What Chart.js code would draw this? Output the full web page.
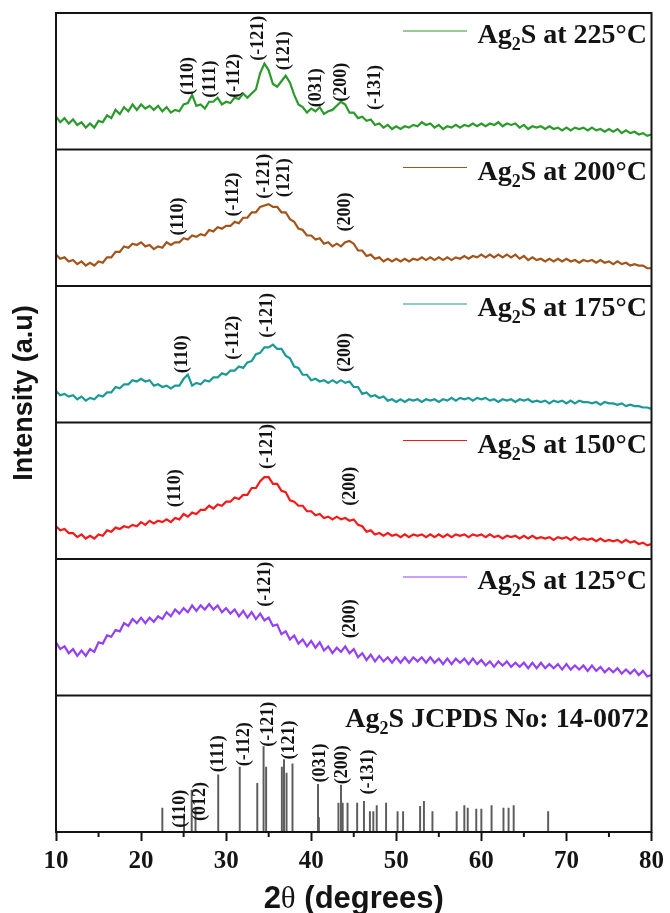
<!DOCTYPE html>
<html>
<head>
<meta charset="utf-8">
<title>Ag2S XRD patterns</title>
<script src="https://cdn.jsdelivr.net/npm/chart.js@4.4.1/dist/chart.umd.min.js"></script>
<style>
    html, body { margin: 0; padding: 0; background: #fff; }
    #wrap { position: relative; width: 670px; height: 913px; }
</style>
</head>
<body>
<div id="wrap"><canvas id="xrd"></canvas></div>
<script>
const twoTheta = [10,10.5,11,11.5,12,12.5,13,13.5,14,14.5,15,15.5,16,16.5,17,17.5,18,18.5,19,19.5,
    20,20.5,21,21.5,22,22.5,23,23.5,24,24.5,25,25.5,26,26.5,27,27.5,28,28.5,29,29.5,
    30,30.5,31,31.5,32,32.5,33,33.5,34,34.5,35,35.5,36,36.5,37,37.5,38,38.5,39,39.5,
    40,40.5,41,41.5,42,42.5,43,43.5,44,44.5,45,45.5,46,46.5,47,47.5,48,48.5,49,49.5,
    50,50.5,51,51.5,52,52.5,53,53.5,54,54.5,55,55.5,56,56.5,57,57.5,58,58.5,59,59.5,
    60,60.5,61,61.5,62,62.5,63,63.5,64,64.5,65,65.5,66,66.5,67,67.5,68,68.5,69,69.5,
    70,70.5,71,71.5,72,72.5,73,73.5,74,74.5,75,75.5,76,76.5,77,77.5,78,78.5,79,79.5,80];

const s225 = [24,20,23,19,22,18,20,16,19,16, 21,20,25,23,29,26,31,28,33,29,
    33,30,32,29,32,28,31,27,29,28, 33,34,40,32,33,30,35,35,38,33,
    35,34,38,37,41,38,41,44,56,63, 58,48,46,50,54,49,40,33,31,27,
    30,28,31,26,28,29,32,35,33,27, 27,23,24,21,22,18,19,16,18,15,
    17,15,17,16,18,17,20,18,19,16, 18,15,17,16,18,16,18,17,19,17,
    19,17,19,18,20,17,19,18,19,16, 18,15,17,16,17,15,17,15,16,14,
    16,14,16,15,16,14,16,14,15,13, 15,13,15,12,14,12,13,11,12,10, 11];

const s200 = [23,20,21,18,19,16,18,15,17,15, 18,17,21,21,25,25,29,28,31,30,
    32,29,30,27,29,28,32,30,32,32, 35,34,37,36,38,37,41,40,43,42,
    44,44,47,46,50,50,54,54,58,59, 60,58,58,54,54,49,47,42,41,37,
    37,34,35,31,32,29,31,29,32,33, 31,26,26,22,23,20,21,18,20,18,
    20,18,20,18,20,19,21,19,21,19, 21,19,21,19,21,20,22,20,22,21,
    23,21,23,21,23,21,23,21,23,20, 22,19,21,19,20,18,20,18,20,18,
    20,18,19,17,19,18,19,17,19,17, 18,16,18,16,17,15,16,15,15,13, 13];

const s175 = [23,20,21,19,20,17,19,16,18,17, 20,19,22,22,26,25,28,28,31,30,
    32,30,31,27,28,26,27,25,27,27, 32,35,27,29,28,31,30,33,33,36,
    35,38,38,41,40,44,45,50,51,55, 55,57,54,54,49,47,41,40,35,35,
    31,32,30,31,29,31,29,31,29,30, 26,26,21,22,19,20,18,19,16,17,
    15,17,15,17,16,17,15,17,16,17, 15,17,16,18,16,18,17,18,16,18,
    17,18,16,17,15,17,16,17,15,17, 16,17,15,16,15,16,14,16,15,16,
    14,16,14,16,15,15,14,15,13,15, 14,14,13,14,12,13,12,12,11,11, 10];

const s150 = [24,21,22,19,19,16,18,15,17,15, 18,17,21,20,23,22,24,23,25,24,
    27,25,28,26,28,27,29,27,30,29, 33,31,34,33,36,36,39,37,40,39,
    42,42,45,44,47,47,52,52,57,60, 60,55,55,50,49,43,42,39,39,35,
    35,32,33,30,31,29,31,29,30,28, 29,25,24,20,21,18,19,17,19,17,
    18,16,18,16,18,17,18,16,18,16, 18,16,18,16,18,17,18,16,18,17,
    18,16,18,16,17,15,17,16,17,15, 17,15,17,15,16,15,16,14,16,15,
    16,14,16,14,15,14,15,13,15,13, 14,13,14,12,14,12,13,11,12,10, 11];

const s125 = [39,34,36,31,34,29,33,29,34,32, 39,38,44,43,48,47,53,51,56,53,
    57,53,57,54,58,56,61,58,63,60, 64,61,66,62,66,63,67,63,66,61,
    64,60,63,58,62,57,61,56,60,55, 57,51,52,45,47,41,44,38,41,36,
    40,35,39,33,36,31,35,32,36,31, 34,28,31,26,30,25,29,25,28,24,
    28,24,28,24,28,25,28,24,28,24, 27,23,27,23,27,24,27,23,27,23,
    26,22,25,21,25,22,25,21,24,21, 24,20,24,20,24,20,23,20,23,19,
    23,19,22,19,22,18,22,18,21,17, 20,17,20,16,19,16,19,15,18,14, 15];

const stickAngles = [22.5,25.05,25.95,26.4,29.07,31.6,33.66,34.4,34.7,36.55,
    36.8,37.1,37.8,40.8,40.9,43.2,43.5,43.7,44.27,45.4,
    46.2,46.9,47.3,47.7,48.8,50.15,50.8,52.8,53.25,54.25,
    57.1,58.0,58.4,59.4,60.0,61.2,62.6,63.2,63.8,67.85];
const stickIntensity = [28,21,49,27,67,76,57,100,76,76,
    85,69,80,56,17,34,55,34,34,34,
    36,24,24,31,34,24,24,30,36,24,
    24,31,28,27,27,31,28,28,31,24];

const temps = ['225', '200', '175', '150', '125'];
const refCard = '14-0072';
const xTicks = [10, 20, 30, 40, 50, 60, 70, 80];
const xMinorTicks = [15, 25, 35, 45, 55, 65, 75];

const hkl225 = ['(110)', '(111)', '(-112)', '(-121)', '(121)', '(031)', '(200)', '(-131)'];
const hkl225At = [25.5, 28.2, 31.0, 33.8, 36.9, 40.6, 43.5, 47.5];
const hkl225Lift = [40, 38, 38, 65, 58, 31, 35, 29];
const hkl200 = ['(110)', '(-112)', '(-121)', '(121)', '(200)'];
const hkl200At = [24.4, 30.9, 34.5, 36.9, 44.0];
const hkl200Lift = [37, 51, 64, 65, 40];
const hkl175 = ['(110)', '(-112)', '(-121)', '(200)'];
const hkl175At = [24.9, 30.9, 34.9, 44.0];
const hkl175Lift = [36, 46, 62, 37];
const hkl150 = ['(110)', '(-121)', '(200)'];
const hkl150At = [24.0, 34.9, 44.6];
const hkl150Lift = [38, 66, 39];
const hkl125 = ['(-121)', '(200)'];
const hkl125At = [34.6, 44.6];
const hkl125Lift = [65, 42];
const hklRef = ['(110)', '(012)', '(111)', '(-112)', '(-121)', '(121)', '(031)', '(200)', '(-131)'];
const hklRefAt = [24.66, 27.0, 29.07, 32.1, 35.0, 37.4, 41.1, 43.7, 46.7];
const hklRefLift = [5, 13, 70, 77, 100, 85, 58, 56, 44];

const SERIF = '"Liberation Serif", "Times New Roman", serif';
const SANS = '"Liberation Sans", Arial, sans-serif';
const INK = '#141414';

const seriesValues = [s225, s200, s175, s150, s125];
const seriesColors = ['#2a9a2a', '#a3541b', '#1a9a96', '#f41a1a', '#9440f5'];
const panelIds = ['y225', 'y200', 'y175', 'y150', 'y125', 'yRef'];
const panelPeaks = [
    [hkl225, hkl225At, hkl225Lift],
    [hkl200, hkl200At, hkl200Lift],
    [hkl175, hkl175At, hkl175Lift],
    [hkl150, hkl150At, hkl150Lift],
    [hkl125, hkl125At, hkl125Lift],
    [hklRef, hklRefAt, hklRefLift],
];

const datasets = seriesValues.map((values, i) => ({
    type: 'line',
    label: `Ag2S at ${temps[i]}°C`,
    data: twoTheta.map((t, j) => ({ x: t, y: values[j] })),
    xAxisID: 'x',
    yAxisID: panelIds[i],
    borderColor: seriesColors[i],
    borderWidth: 2.2,
    borderJoinStyle: 'miter',
    pointRadius: 0,
    tension: 0,
}));

datasets.push({
    type: 'bar',
    label: `Ag2S JCPDS No: ${refCard}`,
    data: stickAngles.map((t, j) => ({ x: t, y: stickIntensity[j] })),
    xAxisID: 'x',
    yAxisID: 'yRef',
    backgroundColor: '#5c5c5c',
    borderWidth: 0,
    barThickness: 1.3,
});

const scales = {
    x: {
        type: 'linear',
        position: 'bottom',
        min: 10,
        max: 80,
        offset: false,
        border: { display: false },
        grid: {
            offset: false,
            drawOnChartArea: false,
            drawTicks: true,
            tickLength: 9,
            tickWidth: 2,
            tickColor: INK,
        },
        afterBuildTicks(scale) {
            scale.ticks = xTicks.map((v) => ({ value: v }));
        },
        ticks: {
            padding: 6,
            maxRotation: 0,
            autoSkip: false,
            color: INK,
            font: { family: SERIF, size: 25, weight: 'bold' },
        },
    },
};

panelIds.forEach((id, i) => {
    scales[id] = {
        type: 'linear',
        position: 'left',
        stack: 'xrd',
        stackWeight: 1,
        weight: panelIds.length - i,
        display: false,
        offset: false,
        min: 0,
        max: id === 'yRef' ? 160 : 100,
    };
});

function drawFormulaText(ctx, rest, right, baseline) {
    const big = `bold 28px ${SERIF}`;
    const small = `bold 18px ${SERIF}`;
    ctx.font = big;
    const w1 = ctx.measureText('Ag').width;
    const w3 = ctx.measureText('S' + rest).width;
    ctx.font = small;
    const w2 = ctx.measureText('2').width;
    let x = right - (w1 + w2 + w3);
    ctx.textAlign = 'left';
    ctx.textBaseline = 'alphabetic';
    ctx.font = big;
    ctx.fillText('Ag', x, baseline);
    x += w1;
    ctx.font = small;
    ctx.fillText('2', x, baseline + 7);
    x += w2;
    ctx.font = big;
    ctx.fillText('S' + rest, x, baseline);
}

const xrdDecor = {
    id: 'xrdDecor',
    afterDraw(chart) {
        const { ctx, chartArea: area } = chart;
        const sx = chart.scales.x;
        ctx.save();

        // frame and panel separators
        ctx.strokeStyle = INK;
        ctx.lineWidth = 2;
        ctx.strokeRect(area.left, area.top, area.right - area.left, area.bottom - area.top);
        panelIds.slice(1).forEach((id) => {
            const y = chart.scales[id].top;
            ctx.beginPath();
            ctx.moveTo(area.left, y);
            ctx.lineTo(area.right, y);
            ctx.stroke();
        });

        xMinorTicks.forEach((v) => {
            const x = sx.getPixelForValue(v);
            ctx.beginPath();
            ctx.moveTo(x, area.bottom);
            ctx.lineTo(x, area.bottom + 5);
            ctx.stroke();
        });

        // legends
        ctx.fillStyle = INK;
        panelIds.forEach((id, i) => {
            const top = chart.scales[id].top;
            if (i < temps.length) {
                ctx.strokeStyle = seriesColors[i];
                ctx.lineWidth = 1.2;
                ctx.beginPath();
                ctx.moveTo(403, top + 18);
                ctx.lineTo(467, top + 18);
                ctx.stroke();
                drawFormulaText(ctx, ` at ${temps[i]}°C`, 647, top + 30);
            } else {
                drawFormulaText(ctx, ` JCPDS No: ${refCard}`, 649, top + 31);
            }
        });

        // peak indices
        ctx.font = `bold 18px ${SERIF}`;
        ctx.textAlign = 'left';
        ctx.textBaseline = 'middle';
        panelPeaks.forEach(([names, at, lift], i) => {
            const sy = chart.scales[panelIds[i]];
            names.forEach((name, j) => {
                ctx.save();
                ctx.translate(sx.getPixelForValue(at[j]), sy.getPixelForValue(lift[j]));
                ctx.rotate(-Math.PI / 2);
                ctx.fillText(name, 0, 0);
                ctx.restore();
            });
        });

        // axis titles
        ctx.save();
        ctx.translate(25, 393);
        ctx.rotate(-Math.PI / 2);
        ctx.font = `bold 27px ${SANS}`;
        ctx.textAlign = 'center';
        ctx.textBaseline = 'middle';
        ctx.fillText('Intensity (a.u)', 0, 0);
        ctx.restore();

        const parts = [['2', `bold 31px ${SANS}`], ['θ', `31px ${SERIF}`], [' (degrees)', `bold 31px ${SANS}`]];
        const widths = parts.map(([t, f]) => { ctx.font = f; return ctx.measureText(t).width; });
        let x = (area.left + area.right) / 2 - widths.reduce((a, b) => a + b, 0) / 2;
        ctx.textAlign = 'left';
        ctx.textBaseline = 'alphabetic';
        parts.forEach(([t, f], k) => {
            ctx.font = f;
            ctx.fillText(t, x, 908);
            x += widths[k];
        });

        ctx.restore();
    },
};

new Chart(document.getElementById('xrd'), {
    type: 'line',
    data: { datasets },
    options: {
        responsive: true,
        maintainAspectRatio: false,
        animation: false,
        devicePixelRatio: 1,
        layout: { padding: { left: 56, right: 15, top: 13, bottom: 30 } },
        plugins: {
            legend: { display: false },
            tooltip: { enabled: false },
        },
        scales,
    },
    plugins: [xrdDecor],
});
</script>
</body>
</html>
